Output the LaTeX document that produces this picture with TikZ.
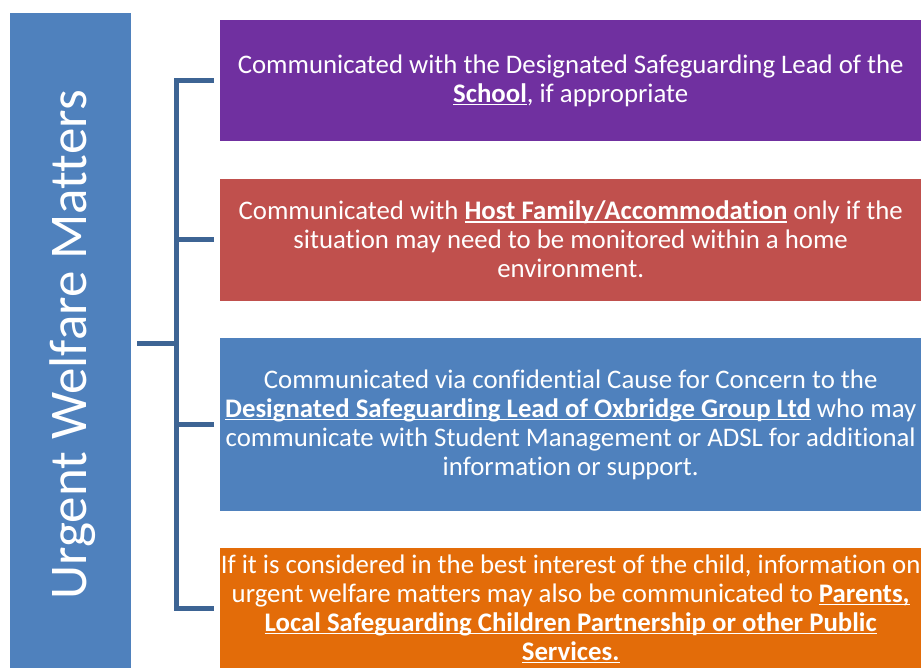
\documentclass[tikz,border=0pt]{standalone}
\usepackage{fontspec}
\setmainfont{Carlito}[Ligatures=NoCommon]
\usepackage{tikz}
\usetikzlibrary{positioning}
\definecolor{welfarepurple}{RGB}{112,48,160}
\definecolor{welfarered}{RGB}{192,80,77}
\definecolor{welfareblue}{RGB}{79,129,189}
\definecolor{welfareorange}{RGB}{227,108,9}
\definecolor{bracketblue}{RGB}{61,100,148}
\newsavebox\ulbox
\newcommand\ulbold[1]{\sbox\ulbox{\textbf{#1}}\rlap{\rule[-3pt]{\wd\ulbox}{1.4pt}}\usebox\ulbox}

\begin{document}
\begin{tikzpicture}[x=1pt, y=-1pt, node distance=37pt,
  welfarebox/.style={rectangle, inner sep=0pt, minimum width=701pt, text=white,
    align=center, font=\fontsize{26.8}{29}\selectfont},
  bracket/.style={draw=bracketblue, line width=5pt}]
  \useasboundingbox (0,0) rectangle (922,668);
  \node [rectangle, fill=welfareblue, anchor=north west, minimum width=121pt, minimum height=655pt] (urgent) at (10,13) {};
  \node [rotate=90, anchor=base, text=white, font=\fontsize{53}{64}\selectfont] (title) at (86,345) {Urgent Welfare Matters};
  \node [welfarebox, fill=welfarepurple, anchor=north west, minimum height=121pt] (school) at (220,20)
    {Communicated with the Designated Safeguarding Lead of the\\ \ulbold{School}, if appropriate};
  \node [welfarebox, fill=welfarered, minimum height=122pt] (host) [below=of school]
    {Communicated with \ulbold{Host Family/Accommodation} only if the\\ situation may need to be monitored within a home\\ environment.};
  \node [welfarebox, fill=welfareblue, minimum height=173pt] (ogl) [below=of host]
    {Communicated via confidential Cause for Concern to the\\ \ulbold{Designated Safeguarding Lead of Oxbridge Group Ltd} who may\\ communicate with Student Management or ADSL for additional\\ information or support.};
  \node [welfarebox, fill=welfareorange, minimum height=121pt] (parents) [below=of ogl]
    {If it is considered in the best interest of the child, information on\\ urgent welfare matters may also be communicated to \ulbold{Parents,}\\ \ulbold{Local Safeguarding Children Partnership or other Public}\\ \ulbold{Services.}};
  \coordinate (fork) at (176,344);
  \draw [bracket] ([xshift=6pt]urgent.east |- fork) -- (fork);
  \draw [bracket] ([xshift=-6pt]school.west) -| (fork) |- ([xshift=-6pt]parents.west);
  \draw [bracket] ([xshift=-6pt]host.west) -- (fork |- host.west);
  \draw [bracket] ([xshift=-6pt]ogl.west) -- (fork |- ogl.west);
\end{tikzpicture}
\end{document}
